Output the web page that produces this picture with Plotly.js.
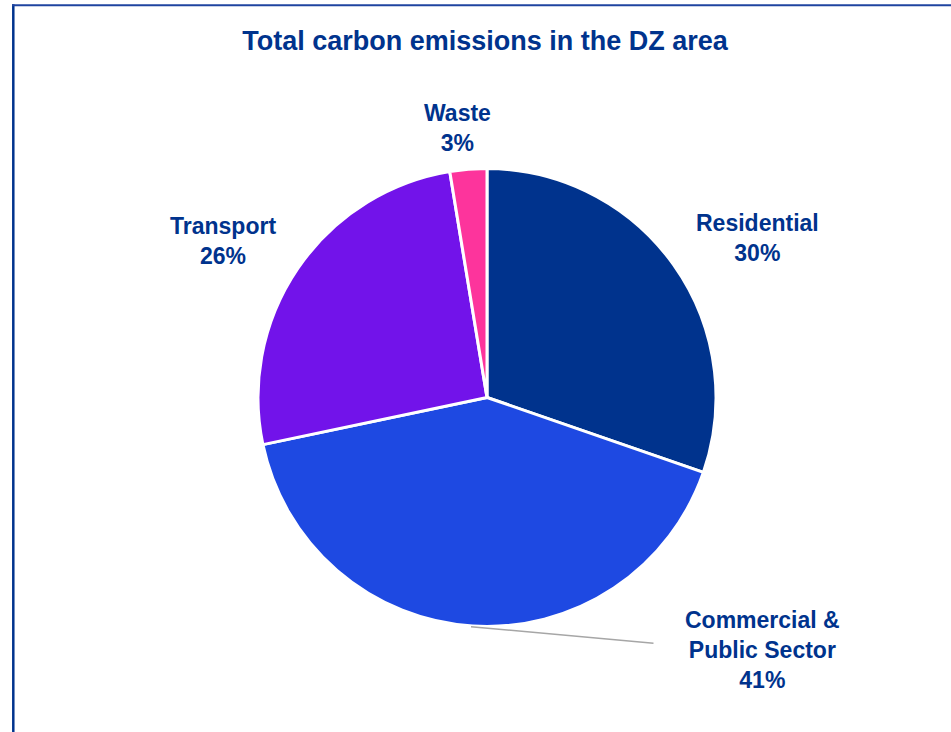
<!DOCTYPE html>
<html>
<head>
<meta charset="utf-8">
<script src="https://cdn.plot.ly/plotly-3.0.1.min.js"></script>
<style>
html,body{margin:0;padding:0;background:#fff;}
#chart{width:951px;height:732px;}
</style>
</head>
<body>
<div id="chart"></div>
<script>
// ---- data ----
const categories = ["Residential", "Commercial & Public Sector", "Transport", "Waste"];
const labelLines = ["Residential", "Commercial &<br>Public Sector", "Transport", "Waste"];
const values = [30.3, 41.4, 25.7, 2.6];
const colors = ["#00338D", "#1E49E2", "#7213EA", "#FD349C"];
const titleText = "Total carbon emissions in the DZ area";

// ---- layout helpers (pixel -> paper) ----
const W = 951, H = 732;
const px = x => x / W;
const py = y => 1 - y / H;

const cx = 487, cy = 397.5, R = 229;
const labelPos = [
  {x: 757.5, y: 238},
  {x: 762, y: 650},
  {x: 223, y: 240.5},
  {x: 457, y: 127.5}
];

const total = values.reduce((a, b) => a + b, 0);
const annotations = categories.map((c, i) => ({
  x: px(labelPos[i].x), y: py(labelPos[i].y),
  xref: 'paper', yref: 'paper',
  xanchor: 'center', yanchor: 'middle',
  text: '<b>' + labelLines[i] + '<br>' + Math.round(values[i] / total * 100) + '%</b>',
  showarrow: false,
  font: {family: '"Liberation Sans", Arial, sans-serif', size: 23, color: '#00338D'},
  align: 'center'
}));

const trace = {
  type: 'pie',
  labels: categories,
  values: values,
  sort: false,
  direction: 'clockwise',
  rotation: 0,
  textinfo: 'none',
  hoverinfo: 'label+percent',
  marker: {colors: colors, line: {color: '#ffffff', width: 3}},
  domain: {x: [px(cx - R), px(cx + R)], y: [py(cy + R), py(cy - R)]},
  showlegend: false
};

const layout = {
  width: W, height: H,
  margin: {l: 0, r: 0, t: 0, b: 0},
  paper_bgcolor: '#ffffff',
  showlegend: false,
  title: {
    text: '<b>' + titleText + '</b>',
    font: {family: '"Liberation Sans", Arial, sans-serif', size: 27, color: '#00338D'},
    x: px(485), xanchor: 'center', xref: 'paper',
    y: py(41), yanchor: 'middle', yref: 'container'
  },
  annotations: annotations,
  shapes: [
    {type: 'line', xref: 'paper', yref: 'paper', x0: px(13.3), x1: px(13.3), y0: py(4.3), y1: 0,
     line: {color: '#00338D', width: 2.5}},
    {type: 'line', xref: 'paper', yref: 'paper', x0: px(12), x1: 1, y0: py(5.3), y1: py(5.3),
     line: {color: '#1F44A0', width: 2}},
    {type: 'line', xref: 'paper', yref: 'paper', x0: px(471), x1: px(653.5), y0: py(626.7), y1: py(643.3),
     line: {color: '#A6A6A6', width: 1.5}}
  ]
};

Plotly.newPlot('chart', [trace], layout, {displayModeBar: false, staticPlot: true});
</script>
</body>
</html>
